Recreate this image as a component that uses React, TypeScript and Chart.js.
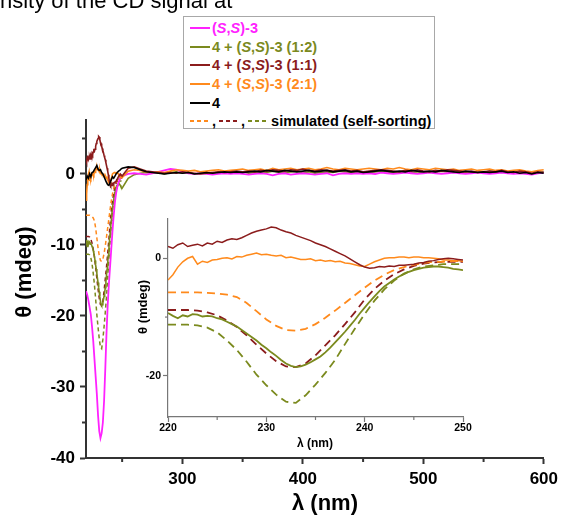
import React, { useEffect, useRef } from "react";
import { Chart, registerables } from "chart.js";

Chart.register(...registerables);

// ---------------- DATA ----------------
const WL_DETAIL = [220, 221, 222, 223, 224, 225, 226, 227, 228, 229, 230, 231, 232, 233, 234, 235, 236, 237, 238, 239, 240, 241, 242, 243, 244, 245, 246, 247, 248, 249, 250];
const WL_FINE = [
  220, 220.5, 221, 221.5, 222, 222.5, 223, 223.5, 224, 224.5,
  225, 225.5, 226, 226.5, 227, 227.5, 228, 228.5, 229, 229.5,
  230, 230.5, 231, 231.5, 232, 232.5, 233, 233.5, 234, 234.5,
  235, 235.5, 236, 236.5, 237, 237.5, 238, 238.5, 239, 239.5,
  240, 240.5, 241, 241.5, 242, 242.5, 243, 243.5, 244, 244.5,
  245, 245.5, 246, 246.5, 247, 247.5, 248, 248.5, 249, 249.5,
  250,
];
const WL_TAIL = [
  255, 260, 265, 270, 275, 280, 285, 290, 295, 300,
  305, 310, 315, 320, 325, 330, 335, 340, 345, 350,
  355, 360, 365, 370, 375, 380, 385, 390, 395, 400,
  405, 410, 415, 420, 425, 430, 435, 440, 445, 450,
  455, 460, 465, 470, 475, 480, 485, 490, 495, 500,
  505, 510, 515, 520, 525, 530, 535, 540, 545, 550,
  555, 560, 565, 570, 575, 580, 585, 590, 595, 600,
];

// (S,S)-3
const MAGENTA_DETAIL = [-16.5, -17.0, -17.8, -18.8, -19.8, -21.5, -23.5, -26.0, -28.5, -31.0, -34.0, -36.2, -37.2, -36.5, -35.0, -32.0, -27.5, -22.5, -18.5, -15.5, -13.0, -10.5, -8.0, -5.8, -4.0, -2.7, -1.8, -1.2, -0.8, -0.5, -0.3];
const MAGENTA_TAIL = [
  0.0, 0.1, 0.0, -0.1, 0.1, 0.3, 0.5, 0.7, 0.6, 0.3,
  0.1, 0.0, 0.1, 0.0, -0.1, 0.0, 0.1, 0.0, 0.1, 0.0,
  -0.1, 0.0, 0.1, 0.0, -0.2, 0.0, 0.1, -0.1, 0.0, 0.1,
  0.0, -0.1, 0.0, 0.1, -0.2, 0.0, 0.1, 0.0, 0.1, 0.0,
  0.1, 0.0, 0.2, 0.1, 0.0, 0.1, 0.2, 0.1, 0.0, 0.1,
  0.2, 0.1, 0.0, 0.1, 0.2, 0.1, 0.0, 0.1, 0.2, 0.1,
  0.0, 0.1, 0.2, 0.1, 0.0, 0.1, 0.0, -0.1, 0.1, 0.2,
];
// 4 + (S,S)-3 (1:2)
const OLIVE_FINE = [
  -9.3, -9.8, -10.2, -9.7, -9.9, -9.5, -9.6, -9.9, -9.8, -9.9,
  -10.2, -10.4, -10.8, -11.2, -11.6, -12.2, -12.8, -13.4, -14.0, -14.7,
  -15.3, -16.0, -16.6, -17.3, -17.9, -18.3, -18.5, -18.4, -18.1, -17.7,
  -17.2, -16.7, -16.0, -15.2, -14.3, -13.4, -12.5, -11.5, -10.5, -9.4,
  -8.4, -7.4, -6.5, -5.6, -4.8, -4.2, -3.6, -3.1, -2.7, -2.3,
  -2.0, -1.8, -1.6, -1.5, -1.4, -1.4, -1.5, -1.6, -1.8, -1.9,
  -2.0,
];
const OLIVE_TAIL = [
  -0.6, -0.1, 0.1, 0.2, 0.1, 0.2, 0.0, 0.2, 0.3, 0.1,
  0.2, 0.0, 0.1, 0.2, 0.1, 0.3, 0.2, 0.1, 0.2, 0.3,
  0.1, 0.2, 0.3, 0.2, 0.4, 0.3, 0.2, 0.3, 0.4, 0.2,
  0.3, 0.1, 0.2, 0.3, 0.2, 0.4, 0.3, 0.2, 0.3, 0.1,
  0.2, 0.3, 0.4, 0.3, 0.2, 0.3, 0.4, 0.2, 0.3, 0.1,
  0.3, 0.2, 0.4, 0.3, 0.2, 0.3, 0.1, 0.2, 0.3, 0.2,
  0.4, 0.3, 0.2, 0.3, 0.1, 0.2, 0.3, 0.0, 0.2, 0.3,
];
// 4 + (S,S)-3 (1:1)
const DARKRED_FINE = [
  2.0, 1.7, 2.3, 2.6, 2.0, 2.2, 2.4, 2.1, 2.6, 2.4,
  2.9, 2.7, 3.1, 3.3, 3.2, 3.5, 3.9, 4.3, 4.6, 4.8,
  5.0, 5.3, 5.2, 4.8, 4.5, 4.3, 3.9, 3.6, 3.3, 3.0,
  2.6, 2.3, 2.0, 1.6, 1.2, 0.8, 0.4, -0.1, -0.6, -1.1,
  -1.5, -1.7, -1.6, -1.4, -1.5, -1.3, -1.4, -1.2, -1.2, -1.1,
  -1.0, -0.8, -0.7, -0.5, -0.4, -0.2, -0.1, 0.0, -0.1, -0.2,
  -0.3,
];
const DARKRED_TAIL = [
  0.8, 1.0, 0.7, 0.4, 0.3, 0.2, 0.1, 0.2, 0.1, 0.3,
  0.2, 0.1, 0.0, 0.1, 0.2, 0.3, 0.2, 0.3, 0.4, 0.3,
  0.4, 0.3, 0.5, 0.4, 0.6, 0.5, 0.4, 0.6, 0.5, 0.7,
  0.5, 0.4, 0.6, 0.5, 0.4, 0.5, 0.6, 0.4, 0.5, 0.3,
  0.4, 0.5, 0.6, 0.5, 0.4, 0.3, 0.5, 0.4, 0.6, 0.4,
  0.3, 0.5, 0.4, 0.6, 0.5, 0.4, 0.3, 0.4, 0.2, 0.3,
  0.4, 0.3, 0.5, 0.3, 0.2, 0.4, 0.3, 0.1, 0.3, 0.2,
];
// 4 + (S,S)-3 (2:1)
const ORANGE_FINE = [
  -3.7, -2.8, -1.5, -0.6, 0.0, 0.3, -1.0, -0.5, -0.7, -0.3,
  -0.2, 0.0, 0.1, -0.1, 0.3, 0.2, 0.5, 0.7, 0.9, 0.6,
  0.7, 0.5, 0.4, 0.5, 0.1, 0.2, 0.0, -0.2, -0.2, -0.1,
  -0.4, -0.3, -0.5, -0.4, -0.6, -0.5, -0.8, -0.9, -1.1, -1.3,
  -1.4, -1.0, -0.6, -0.3, 0.0, 0.1, 0.1, 0.2, 0.2, 0.1,
  0.2, 0.2, 0.1, 0.1, 0.0, -0.1, -0.3, -0.3, -0.4, -0.4,
  -0.5,
];
const ORANGE_TAIL = [
  0.4, 0.6, 0.5, 0.3, 0.2, 0.3, 0.2, 0.4, 0.6, 0.5,
  0.4, 0.5, 0.3, 0.4, 0.5, 0.6, 0.4, 0.5, 0.6, 0.7,
  0.5, 0.6, 0.7, 0.5, 0.8, 0.6, 0.7, 0.8, 0.6, 0.7,
  0.8, 0.6, 0.7, 0.9, 0.7, 0.6, 0.8, 0.7, 0.6, 0.7,
  0.8, 0.7, 0.6, 0.8, 0.7, 0.9, 0.7, 0.6, 0.8, 0.7,
  0.6, 0.8, 0.7, 0.6, 0.7, 0.5, 0.6, 0.7, 0.5, 0.6,
  0.7, 0.5, 0.6, 0.4, 0.5, 0.6, 0.4, 0.3, 0.5, 0.6,
];
// 4
const BLACK_DETAIL = [-0.8, -0.3, -0.6, 0.0, -0.4, 0.2, 0.3, 0.6, 0.9, 1.2, 0.7, 0.5, 0.6, 0.2, 0.0, -0.4, -0.8, -1.2, -1.5, -1.6, -1.2, -0.8, -0.4, -0.6, -0.3, 0.0, 0.2, 0.4, 0.5, 0.7, 0.8];
const BLACK_TAIL = [
  1.0, 0.9, 0.6, 0.3, 0.2, 0.1, 0.0, 0.1, 0.2, 0.1,
  0.2, 0.0, 0.1, 0.2, 0.1, 0.2, 0.3, 0.2, 0.3, 0.2,
  0.3, 0.4, 0.3, 0.5, 0.4, 0.3, 0.5, 0.4, 0.3, 0.4,
  0.5, 0.3, 0.4, 0.5, 0.3, 0.4, 0.5, 0.3, 0.4, 0.2,
  0.3, 0.4, 0.5, 0.4, 0.3, 0.4, 0.3, 0.5, 0.4, 0.3,
  0.4, 0.3, 0.5, 0.4, 0.3, 0.2, 0.4, 0.3, 0.2, 0.3,
  0.2, 0.3, 0.4, 0.2, 0.3, 0.1, 0.2, 0.0, 0.2, 0.1,
];
// simulated (self-sorting)
const ORANGE_SIM = [-5.8, -5.8, -5.8, -5.8, -5.9, -6.0, -6.2, -6.6, -7.6, -9.0, -10.4, -11.5, -12.2, -12.3, -12.0, -11.2, -10.1, -8.9, -7.6, -6.3, -5.0, -3.8, -2.8, -2.0, -1.5, -1.1, -0.8, -0.6, -0.6, -0.5, -0.5];
const DARKRED_SIM = [-8.8, -8.8, -8.8, -8.9, -9.2, -9.7, -10.6, -11.7, -13.1, -14.7, -16.2, -17.5, -18.4, -18.5, -17.9, -16.5, -14.8, -13.1, -11.2, -9.2, -7.0, -5.2, -3.8, -2.7, -1.9, -1.3, -0.9, -0.7, -0.6, -0.6, -0.6];
const OLIVE_SIM = [-11.3, -11.3, -11.3, -11.4, -11.8, -12.6, -14.0, -15.6, -17.6, -19.8, -21.6, -23.2, -24.4, -24.6, -23.3, -21.5, -19.5, -17.3, -14.6, -12.0, -9.5, -7.2, -5.3, -3.8, -2.6, -1.9, -1.4, -1.2, -1.0, -1.0, -1.0];

// ticks
const MAIN_X_MAJOR = [300, 400, 500, 600];
const MAIN_X_MINOR = [250, 350, 450, 550];
const MAIN_Y_MAJOR = [-40, -30, -20, -10, 0];
const MAIN_Y_MINOR = [-35, -25, -15, -5, 5];
const INSET_X_MAJOR = [220, 230, 240, 250];
const INSET_X_MINOR = [225, 235, 245];
const INSET_Y_MAJOR = [-20, 0];
const INSET_Y_MINOR = [-10];

// ---------------- STYLE ----------------
const C_MAGENTA = "#ff22ff";
const C_OLIVE = "#7b8a1e";
const C_DARKRED = "#8b1c1c";
const C_ORANGE = "#ff8a1c";
const C_BLACK = "#000000";
const FONT = 'Arial, "Liberation Sans", sans-serif';

const zip = (xs: number[], ys: number[]) =>
  xs.slice(0, ys.length).map((x, i) => ({ x, y: ys[i] }));

const line = (label: string, color: string, xs: number[], ys: number[], width: number, dash?: number[]) => ({
  label,
  data: zip(xs, ys),
  borderColor: color,
  backgroundColor: color,
  borderWidth: width,
  borderDash: dash || [],
  pointRadius: 0,
  fill: false,
  tension: 0,
});

type MinorSpec = { axis: string; values: number[]; length: number; color: string; width: number };
const makeMinorTicks = (id: string, specs: MinorSpec[]) => ({
  id,
  afterDraw(chart: any) {
    const ctx = chart.ctx;
    const area = chart.chartArea;
    specs.forEach((s) => {
      const scale = chart.scales[s.axis];
      ctx.save();
      ctx.strokeStyle = s.color;
      ctx.lineWidth = s.width;
      s.values.forEach((v) => {
        const p = scale.getPixelForValue(v);
        ctx.beginPath();
        if (scale.isHorizontal()) {
          ctx.moveTo(p, area.bottom);
          ctx.lineTo(p, area.bottom + s.length);
        } else {
          ctx.moveTo(area.left, p);
          ctx.lineTo(area.left - s.length, p);
        }
        ctx.stroke();
      });
      ctx.restore();
    });
  },
});

type TextSpec = { text: string; x: number; y: number; font: string; rotate?: number };
const makeTexts = (id: string, items: TextSpec[]) => ({
  id,
  afterDraw(chart: any) {
    const ctx = chart.ctx;
    items.forEach((t) => {
      ctx.save();
      ctx.font = t.font;
      ctx.fillStyle = "#000";
      ctx.textAlign = "center";
      ctx.textBaseline = "middle";
      ctx.translate(t.x, t.y);
      if (t.rotate) ctx.rotate(t.rotate);
      ctx.fillText(t.text, 0, 0);
      ctx.restore();
    });
  },
});

const axisCommon = (fontSize: number, tickLen: number, pad: number, axisColor: string, borderW: number) => ({
  type: "linear" as const,
  grid: { drawOnChartArea: false, drawTicks: true, tickLength: tickLen, color: axisColor, tickColor: axisColor, tickWidth: borderW },
  border: { display: true, color: axisColor, width: borderW },
  ticks: {
    font: { family: FONT, size: fontSize, weight: "bold" as const },
    color: "#000",
    padding: pad,
    autoSkip: false,
    maxRotation: 0,
    minRotation: 0,
  },
});

export default function App() {
  const mainRef = useRef<HTMLCanvasElement>(null);
  const insetRef = useRef<HTMLCanvasElement>(null);

  useEffect(() => {
    const xsAll = [...WL_DETAIL, ...WL_TAIL];
    const xsFine = [...WL_FINE, ...WL_TAIL];
    const mainChart = new Chart(mainRef.current as HTMLCanvasElement, {
      type: "line",
      data: {
        datasets: [
          line("4", C_BLACK, xsAll, [...BLACK_DETAIL, ...BLACK_TAIL], 1.6),
          line("4 + (S,S)-3 (1:1)", C_DARKRED, xsFine, [...DARKRED_FINE, ...DARKRED_TAIL], 1.6),
          line("4 + (S,S)-3 (2:1)", C_ORANGE, xsFine, [...ORANGE_FINE, ...ORANGE_TAIL], 1.6),
          line("(S,S)-3", C_MAGENTA, xsAll, [...MAGENTA_DETAIL, ...MAGENTA_TAIL], 1.8),
          line("4 + (S,S)-3 (1:2)", C_OLIVE, xsFine, [...OLIVE_FINE, ...OLIVE_TAIL], 1.6),
          line("sim 2:1", C_ORANGE, WL_DETAIL, ORANGE_SIM, 1.5, [4, 3]),
          line("sim 1:1", C_DARKRED, WL_DETAIL, DARKRED_SIM, 1.5, [4, 3]),
          line("sim 1:2", C_OLIVE, WL_DETAIL, OLIVE_SIM, 1.5, [4, 3]),
        ],
      },
      options: {
        responsive: false,
        animation: false,
        events: [],
        layout: { padding: { top: 120, right: 17, left: 0, bottom: 0 } },
        plugins: { legend: { display: false }, tooltip: { enabled: false }, title: { display: false } },
        scales: {
          x: {
            ...axisCommon(17, 6, 5, "#333", 2),
            min: 220,
            max: 600,
            afterBuildTicks: (s: any) => { s.ticks = MAIN_X_MAJOR.map((v) => ({ value: v })); },
            afterFit: (s: any) => { s.height = 58; },
          },
          y: {
            ...axisCommon(17, 6, 5, "#333", 2),
            min: -40,
            max: 7.6,
            afterBuildTicks: (s: any) => { s.ticks = MAIN_Y_MAJOR.map((v) => ({ value: v })); },
            afterFit: (s: any) => { s.width = 86; },
          },
        },
      } as any,
      plugins: [
        makeMinorTicks("mainMinor", [
          { axis: "x", values: MAIN_X_MINOR, length: 4, color: "#333", width: 2 },
          { axis: "y", values: MAIN_Y_MINOR, length: 4, color: "#333", width: 2 },
        ]),
        makeTexts("mainTitles", [
          { text: "λ (nm)", x: 325, y: 504, font: `bold 22px ${FONT}` },
          { text: "θ (mdeg)", x: 25, y: 272, font: `bold 22px ${FONT}`, rotate: -Math.PI / 2 },
        ]),
      ],
    });

    const insetChart = new Chart(insetRef.current as HTMLCanvasElement, {
      type: "line",
      data: {
        datasets: [
          line("4 + (S,S)-3 (1:1)", C_DARKRED, WL_FINE, DARKRED_FINE, 1.5),
          line("4 + (S,S)-3 (2:1)", C_ORANGE, WL_FINE, ORANGE_FINE, 1.5),
          line("4 + (S,S)-3 (1:2)", C_OLIVE, WL_FINE, OLIVE_FINE, 1.8),
          line("sim 2:1", C_ORANGE, WL_DETAIL, ORANGE_SIM, 1.8, [8, 5]),
          line("sim 1:1", C_DARKRED, WL_DETAIL, DARKRED_SIM, 1.8, [8, 5]),
          line("sim 1:2", C_OLIVE, WL_DETAIL, OLIVE_SIM, 1.8, [8, 5]),
        ],
      },
      options: {
        responsive: false,
        animation: false,
        events: [],
        layout: { padding: { top: 8, right: 12, left: 0, bottom: 0 } },
        plugins: { legend: { display: false }, tooltip: { enabled: false }, title: { display: false } },
        scales: {
          x: {
            ...axisCommon(10.5, 5, 0, "#777", 1.2),
            min: 220,
            max: 250,
            afterBuildTicks: (s: any) => { s.ticks = INSET_X_MAJOR.map((v) => ({ value: v })); },
            afterFit: (s: any) => { s.height = 38; },
          },
          y: {
            ...axisCommon(10.5, 5, 2, "#777", 1.2),
            min: -27,
            max: 6.8,
            afterBuildTicks: (s: any) => { s.ticks = INSET_Y_MAJOR.map((v) => ({ value: v })); },
            afterFit: (s: any) => { s.width = 38; },
          },
        },
      } as any,
      plugins: [
        makeMinorTicks("insetMinor", [
          { axis: "x", values: INSET_X_MINOR, length: 3, color: "#777", width: 1.2 },
          { axis: "y", values: INSET_Y_MINOR, length: 3, color: "#777", width: 1.2 },
        ]),
        makeTexts("insetTitles", [
          { text: "λ (nm)", x: 185, y: 234, font: `bold 12px ${FONT}` },
          { text: "θ (mdeg)", x: 13, y: 97, font: `bold 13px ${FONT}`, rotate: -Math.PI / 2 },
        ]),
      ],
    });

    return () => {
      mainChart.destroy();
      insetChart.destroy();
    };
  }, []);

  const dashBg = (c: string) => `repeating-linear-gradient(to right, ${c} 0px, ${c} 4px, transparent 4px, transparent 7px)`;
  const S = () => <i>S</i>;
  const row = (color: string, content: React.ReactNode) => (
    <div style={{ height: 18.6, display: "flex", alignItems: "center" }}>
      <span style={{ display: "inline-block", width: 20, height: 2, background: color, marginLeft: 6 }} />
      <span style={{ marginLeft: 2, color }}>{content}</span>
    </div>
  );

  return (
    <div style={{ position: "absolute", left: 0, top: 0, width: 563, height: 516, overflow: "hidden", background: "#fff" }}>
      <canvas ref={mainRef} width={563} height={516} style={{ position: "absolute", left: 0, top: 0, display: "block" }} />
      <canvas ref={insetRef} width={345} height={245} style={{ position: "absolute", left: 130, top: 210, display: "block" }} />
      <div style={{ position: "absolute", left: 0, top: -10, font: `22px ${FONT}`, lineHeight: "22px", whiteSpace: "nowrap", color: "#000" }}>
        nsity of the CD signal at
      </div>
      <div
        style={{
          position: "absolute",
          left: 183,
          top: 16,
          width: 252,
          height: 113,
          boxSizing: "border-box",
          border: "1px solid #a8a8a8",
          background: "#fff",
          paddingTop: 2,
          font: `bold 14.5px ${FONT}`,
          whiteSpace: "nowrap",
        }}
      >
        {row(C_MAGENTA, <>(<S />,<S />)-3</>)}
        {row(C_OLIVE, <>4 + (<S />,<S />)-3 (1:2)</>)}
        {row(C_DARKRED, <>4 + (<S />,<S />)-3 (1:1)</>)}
        {row(C_ORANGE, <>4 + (<S />,<S />)-3 (2:1)</>)}
        {row(C_BLACK, <>4</>)}
        <div style={{ height: 18.6, display: "flex", alignItems: "center" }}>
          <span style={{ display: "inline-block", width: 20, height: 2, background: dashBg(C_ORANGE), marginLeft: 6 }} />
          <span style={{ marginLeft: 2 }}>,</span>
          <span style={{ display: "inline-block", width: 20, height: 2, background: dashBg(C_DARKRED), marginLeft: 3 }} />
          <span style={{ marginLeft: 2 }}>,</span>
          <span style={{ display: "inline-block", width: 19, height: 2, background: dashBg(C_OLIVE), marginLeft: 3 }} />
          <span style={{ marginLeft: 4, color: "#000" }}>simulated (self-sorting)</span>
        </div>
      </div>
    </div>
  );
}
